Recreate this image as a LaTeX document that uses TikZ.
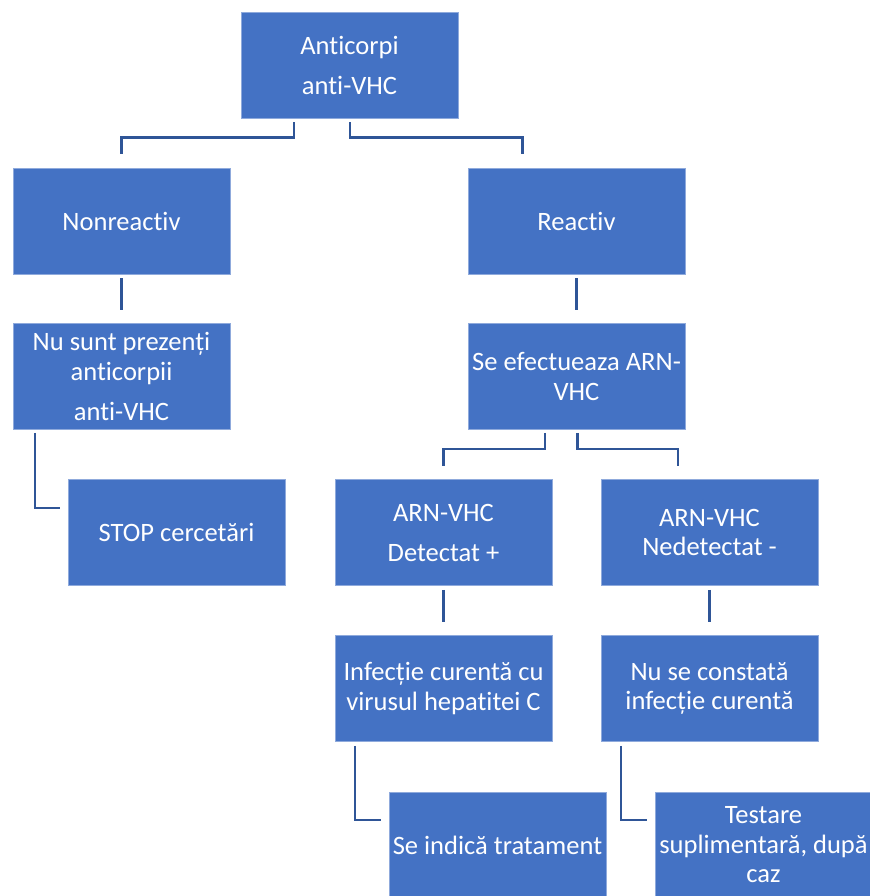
\documentclass[tikz,border=0pt]{standalone}
\usepackage{fontspec}
\setmainfont[RawFeature={-liga;-clig;-dlig}]{Carlito}
\usetikzlibrary{calc}
\definecolor{boxblue}{RGB}{68,114,196}
\definecolor{boxedge}{RGB}{143,170,220}
\definecolor{connblue}{RGB}{47,85,151}
\newcommand{\boxfont}{\fontsize{19.9}{22.1}\selectfont}
\tikzset{
  flowbox/.style={rectangle, fill=boxblue, draw=boxedge, line width=0.6pt,
    minimum width=162.75pt, minimum height=79.5pt, inner sep=0pt,
    text=white, align=center, font=\boxfont},
  conn/.style={draw=connblue, line width=1.8pt}
}
\begin{document}
\begin{tikzpicture}[x=0.75pt,y=-0.75pt]
\useasboundingbox (0,0) rectangle (870,896);
\clip (0,0) rectangle (870,896);
\node[flowbox] (A)  at (349.5,65)   {Anticorpi\\[7.9pt]anti-VHC};
\node[flowbox] (N)  at (121.5,221)  {Nonreactiv};
\node[flowbox] (R)  at (576.5,221)  {Reactiv};
\node[flowbox] (P)  at (121.5,376.5) {Nu sunt prezenți\\anticorpii\\[7.9pt]anti-VHC};
\node[flowbox] (E)  at (576.5,376.5) {Se efectueaza ARN-\\VHC};
\node[flowbox] (S)  at (176.5,532.5) {STOP cercetări};
\node[flowbox] (D)  at (443.5,532.5) {ARN-VHC\\[7.9pt]Detectat +};
\node[flowbox] (ND) at (709.5,532.5) {ARN-VHC\\Nedetectat -};
\node[flowbox] (I)  at (443.5,688.5) {Infecție curentă cu\\virusul hepatitei C};
\node[flowbox] (NC) at (709.5,688.5) {Nu se constată\\infecție curentă};
\node[flowbox] (T)  at (497.5,845)  {Se indică tratament};
\node[flowbox] (TS) at (763.5,845)  {Testare\\suplimentară, după\\caz};

\draw[conn] ($(A.south)+(-55.5,4)$) -- ++(0,15) -| ($(N.north)+(0,-14)$);
\draw[conn] ($(A.south)+(0.5,4)$) -- ++(0,15) -| ($(R.north)+(-54,-14)$);
\draw[conn] ($(N.south)+(0,4)$) -- ($(P.north)+(0,-13)$);
\draw[conn] ($(R.south)+(0,4)$) -- ($(E.north)+(0,-13)$);
\draw[conn] ($(P.south)+(-86.5,3)$) |- ($(S.west)+(-8,-24.5)$);
\draw[conn] ($(E.south)+(-31.5,3)$) -- ++(0,16) -| ($(D.north)+(0,-13)$);
\draw[conn] ($(E.south)+(1,3)$) -- ++(0,16) -| ($(ND.north)+(-31.5,-13)$);
\draw[conn] ($(D.south)+(0,4)$) -- ($(I.north)+(0,-13)$);
\draw[conn] ($(ND.south)+(0,4)$) -- ($(NC.north)+(0,-13)$);
\draw[conn] ($(I.south)+(-88.5,4)$) |- ($(T.west)+(-8,-25)$);
\draw[conn] ($(NC.south)+(-88.5,4)$) |- ($(TS.west)+(-8,-25)$);
\end{tikzpicture}
\end{document}
